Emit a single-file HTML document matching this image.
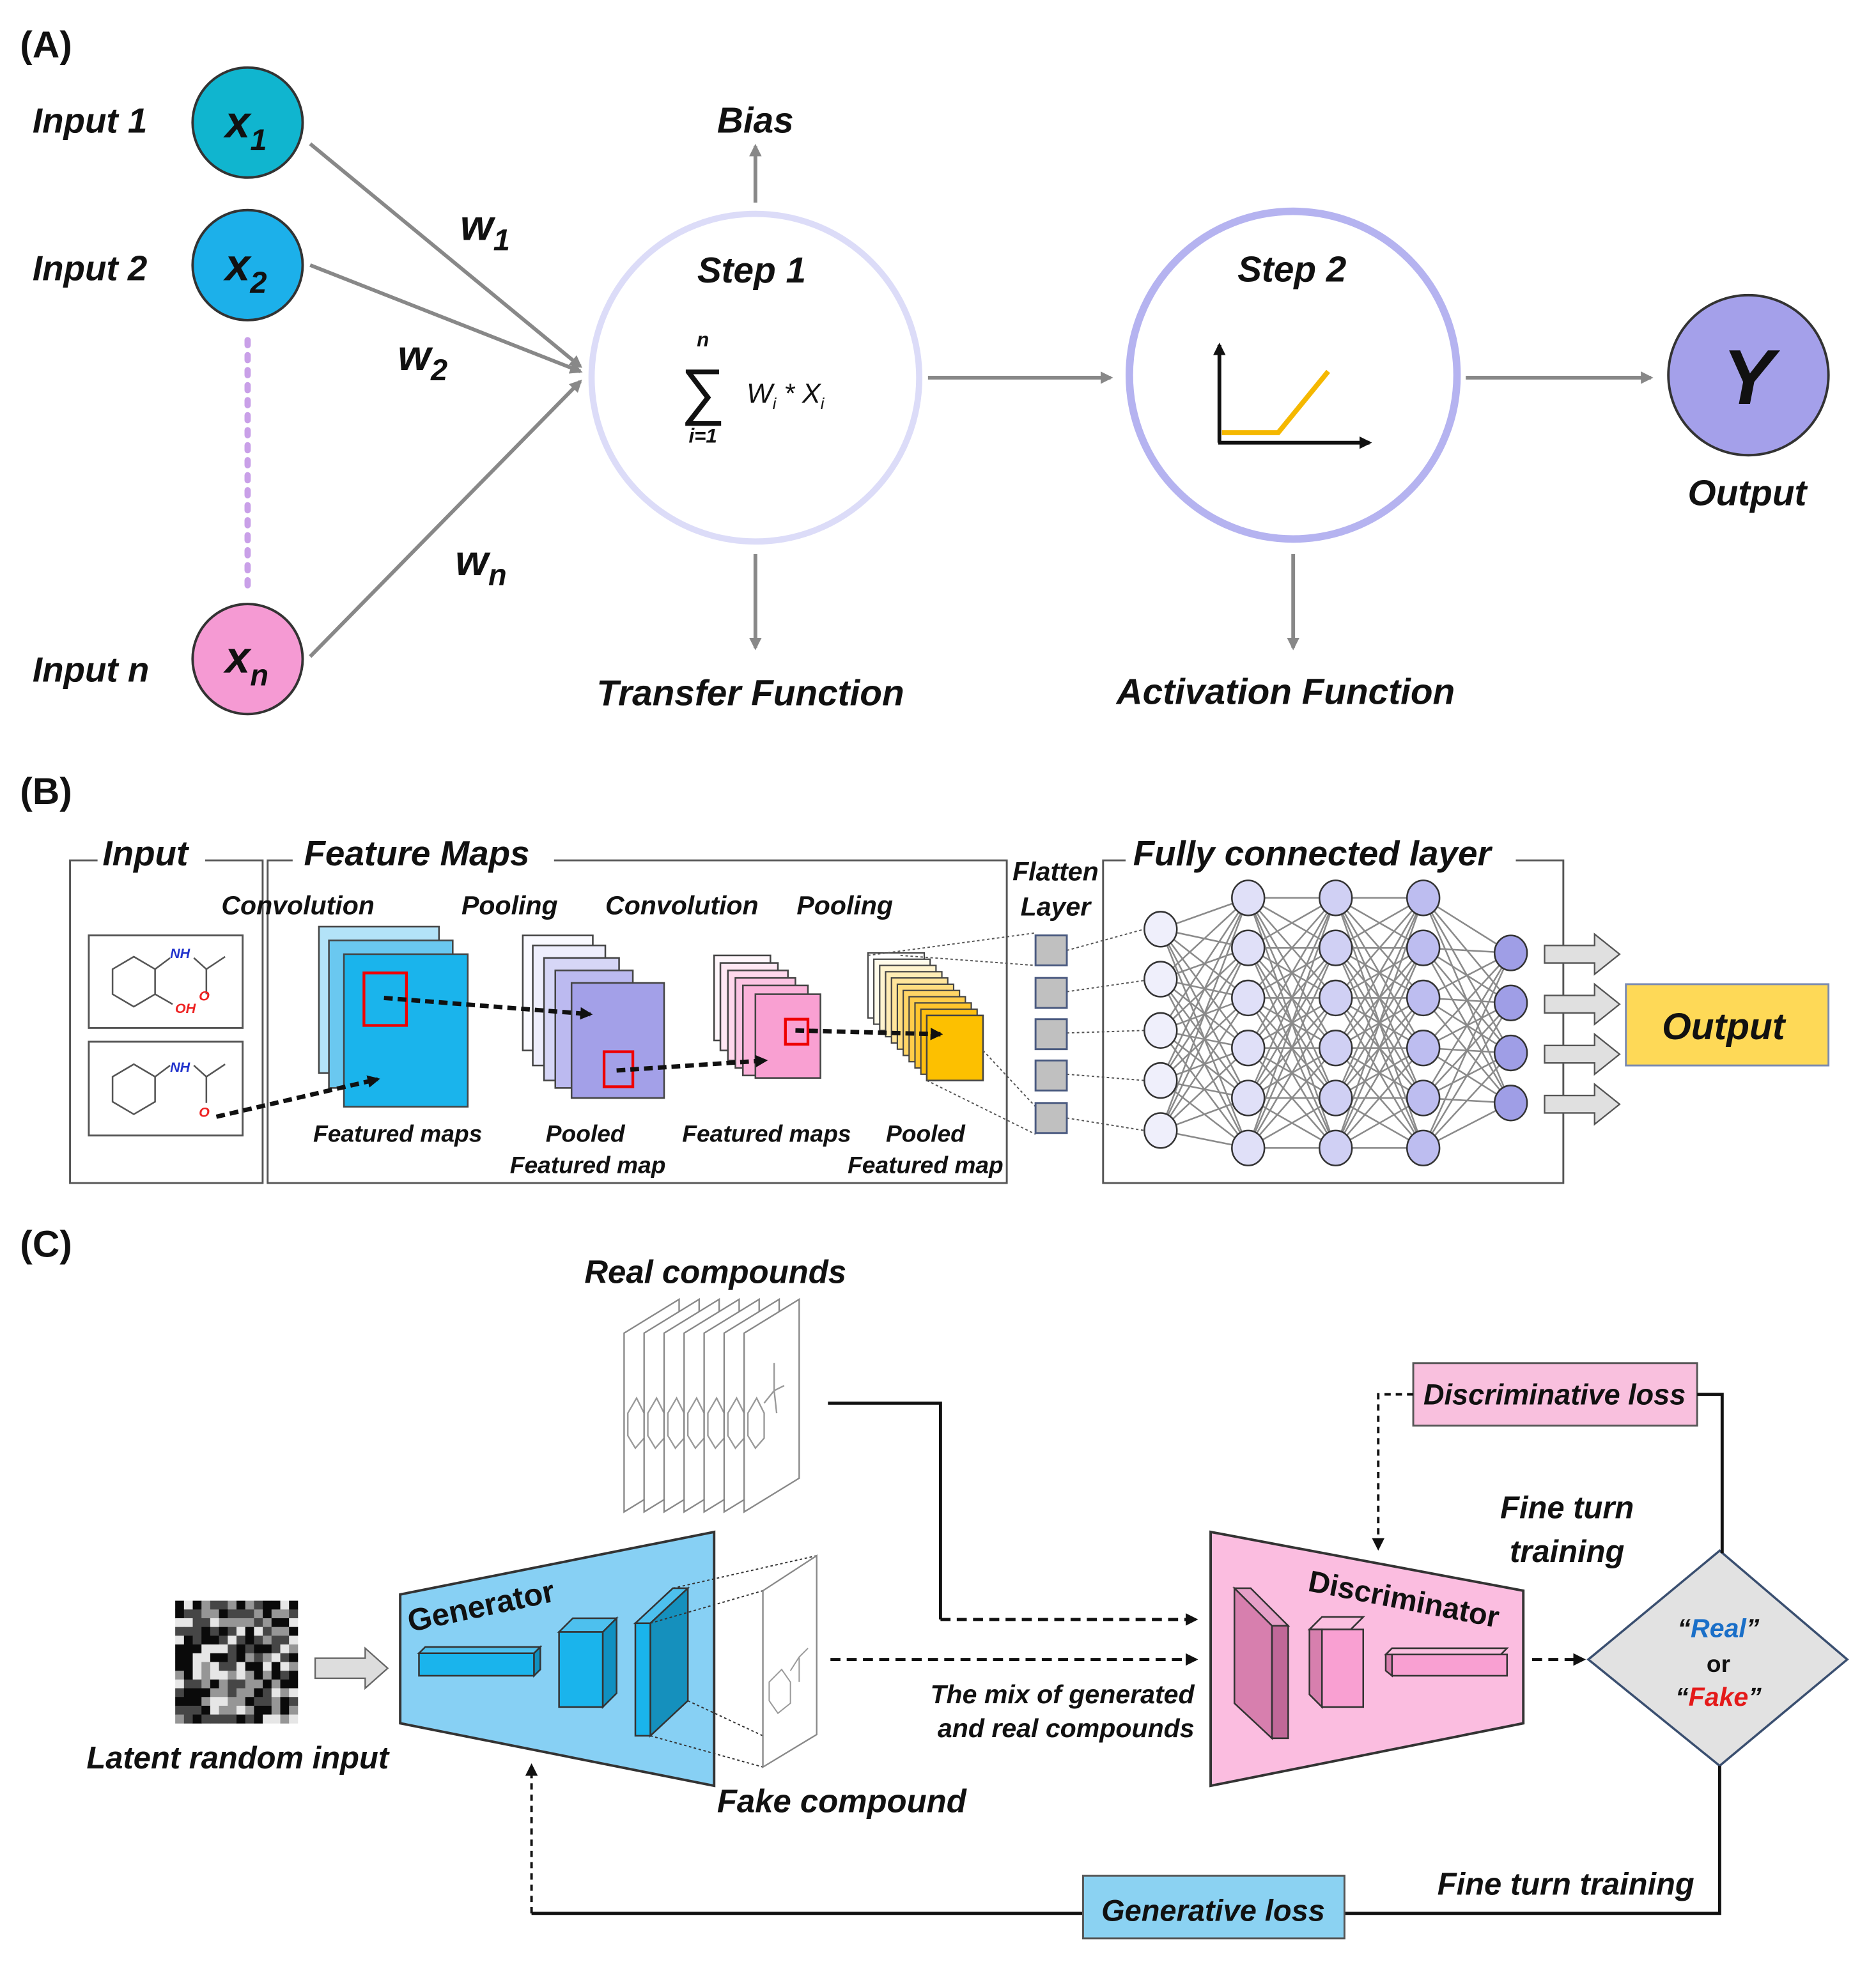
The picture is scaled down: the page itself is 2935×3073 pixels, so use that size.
<!DOCTYPE html>
<html><head><meta charset="utf-8"><style>
html,body{margin:0;padding:0;background:#fff}
svg{display:block}
text{font-family:"Liberation Sans",sans-serif;font-style:italic;font-weight:bold;fill:#111}
.h{font-style:normal}
</style></head><body>
<svg id="s" width="2935" height="3073" viewBox="0 0 1500 1570.5" preserveAspectRatio="none" xmlns="http://www.w3.org/2000/svg">
<defs>
<marker id="ag" markerWidth="10" markerHeight="10" refX="8" refY="5" orient="auto" markerUnits="userSpaceOnUse"><path d="M0,0 L10,5 L0,10 z" fill="#888"/></marker>
<marker id="ak" markerWidth="10" markerHeight="10" refX="8" refY="5" orient="auto" markerUnits="userSpaceOnUse"><path d="M0,0 L10,5 L0,10 z" fill="#111"/></marker>
</defs>
<rect width="1500" height="1571" fill="#fff"/>
<!-- PANEL A -->
<text x="16" y="46" font-size="30" class="h">(A)</text>
<g font-size="28">
<text x="26" y="106">Input 1</text>
<text x="26" y="224">Input 2</text>
<text x="26" y="545">Input n</text>
</g>
<circle cx="198" cy="98" r="44" fill="#10b5cf" stroke="#333" stroke-width="2"/>
<circle cx="198" cy="212" r="44" fill="#1cb0ea" stroke="#333" stroke-width="2"/>
<circle cx="198" cy="527" r="44" fill="#f59ad3" stroke="#333" stroke-width="2"/>
<text x="180" y="110" font-size="36">x<tspan font-size="24" dy="10">1</tspan></text>
<text x="180" y="224" font-size="36">x<tspan font-size="24" dy="10">2</tspan></text>
<text x="180" y="538" font-size="36">x<tspan font-size="24" dy="10">n</tspan></text>
<line x1="198" y1="272" x2="198" y2="470" stroke="#c9a0e8" stroke-width="5" stroke-dasharray="4,8" stroke-linecap="round"/>
<g stroke="#888" stroke-width="3" fill="none">
<line x1="248" y1="115" x2="464" y2="293" marker-end="url(#ag)"/>
<line x1="248" y1="212" x2="464" y2="297" marker-end="url(#ag)"/>
<line x1="248" y1="525" x2="464" y2="305" marker-end="url(#ag)"/>
<line x1="604" y1="162" x2="604" y2="117" marker-end="url(#ag)"/>
<line x1="604" y1="443" x2="604" y2="518" marker-end="url(#ag)"/>
<line x1="742" y1="302" x2="888" y2="302" marker-end="url(#ag)"/>
<line x1="1034" y1="443" x2="1034" y2="518" marker-end="url(#ag)"/>
<line x1="1172" y1="302" x2="1320" y2="302" marker-end="url(#ag)"/>
</g>
<text x="368" y="192" font-size="34">w<tspan font-size="24" dy="8">1</tspan></text>
<text x="318" y="296" font-size="34">w<tspan font-size="24" dy="8">2</tspan></text>
<text x="364" y="460" font-size="34">w<tspan font-size="24" dy="8">n</tspan></text>
<circle cx="604" cy="302" r="131" fill="none" stroke="#dcdcf8" stroke-width="5"/>
<circle cx="1034" cy="300" r="131" fill="none" stroke="#b5b3f0" stroke-width="6"/>
<text x="604" y="106" font-size="29" text-anchor="middle">Bias</text>
<text x="601" y="226" font-size="29" text-anchor="middle">Step 1</text>
<text x="1033" y="225" font-size="29" text-anchor="middle">Step 2</text>
<text x="600" y="564" font-size="29" text-anchor="middle">Transfer Function</text>
<text x="1028" y="563" font-size="29" text-anchor="middle">Activation Function</text>
<text x="562" y="277" font-size="16" text-anchor="middle">n</text>
<text x="562" y="330" font-size="50" text-anchor="middle" class="h" style="font-weight:normal">∑</text>
<text x="562" y="354" font-size="16" text-anchor="middle">i=1</text>
<text x="597" y="322" font-size="22" style="font-weight:normal">W<tspan font-size="13" dy="5">i</tspan><tspan dy="-5"> * X</tspan><tspan font-size="13" dy="5">i</tspan></text>
<g stroke="#111" stroke-width="3" fill="none">
<line x1="975" y1="354" x2="975" y2="276" marker-end="url(#ak)"/>
<line x1="974" y1="354" x2="1095" y2="354" marker-end="url(#ak)"/>
</g>
<polyline points="977,346 1022,346 1062,297" fill="none" stroke="#f5b800" stroke-width="4"/>
<circle cx="1398" cy="300" r="64" fill="#a4a0ea" stroke="#333" stroke-width="2"/>
<text x="1398" y="323" font-size="62" text-anchor="middle">Y</text>
<text x="1397" y="404" font-size="29" text-anchor="middle">Output</text>

<!-- PANEL B -->
<text x="16" y="643" font-size="30" class="h">(B)</text>
<g fill="none" stroke="#555" stroke-width="1.5">
<path d="M78,688 H56 V946 H210 V688 H164"/>
<path d="M234,688 H214 V946 H805 V688 H443"/>
<path d="M900,688 H882 V946 H1250 V688 H1212"/>
<rect x="71" y="748" width="123" height="74"/>
<rect x="71" y="833" width="123" height="75"/>
</g>
<text x="82" y="692" font-size="28">Input</text>
<text x="243" y="692" font-size="28">Feature Maps</text>
<text x="906" y="692" font-size="28">Fully connected layer</text>
<g font-size="21">
<text x="177" y="731">Convolution</text>
<text x="369" y="731">Pooling</text>
<text x="484" y="731">Convolution</text>
<text x="637" y="731">Pooling</text>
<text x="844" y="704" text-anchor="middle">Flatten</text>
<text x="844" y="732" text-anchor="middle">Layer</text>
</g>
<g font-size="19">
<text x="318" y="913" text-anchor="middle">Featured maps</text>
<text x="468" y="913" text-anchor="middle">Pooled</text>
<text x="470" y="938" text-anchor="middle">Featured map</text>
<text x="613" y="913" text-anchor="middle">Featured maps</text>
<text x="740" y="913" text-anchor="middle">Pooled</text>
<text x="740" y="938" text-anchor="middle">Featured map</text>
</g>
<!-- molecules -->
<g fill="none" stroke="#555" stroke-width="1.3">
<path d="M90,775 L107,765 L124,775 L124,795 L107,805 L90,795 Z M124,775 L136,766 M124,795 L138,803 M155,766 L165,775 L180,765 M165,775 L165,795"/>
<path d="M90,861 L107,851 L124,861 L124,881 L107,891 L90,881 Z M124,861 L136,852 M155,852 L165,861 L180,851 M165,861 L165,882"/>
</g>
<g font-size="11" class="h" style="font-weight:normal">
<text x="136" y="766" style="fill:#2233cc">NH</text>
<text x="159" y="800" style="fill:#e22">O</text>
<text x="140" y="810" style="fill:#e22">OH</text>
<text x="136" y="857" style="fill:#2233cc">NH</text>
<text x="159" y="893" style="fill:#e22">O</text>
</g>
<!-- stacks -->
<g stroke="#444" stroke-width="1.3">
<rect x="255" y="741" width="96" height="117" fill="#b3e3f8"/>
<rect x="263" y="752" width="99" height="118" fill="#6ac8f0"/>
<rect x="275" y="763" width="99" height="122" fill="#1ab4ec"/>
<rect x="418" y="748" width="56" height="92" fill="#fafaff"/>
<rect x="426" y="756" width="58" height="96" fill="#eeeefc"/>
<rect x="435" y="766" width="60" height="98" fill="#d6d6f6"/>
<rect x="444" y="776" width="62" height="94" fill="#bcbaf0"/>
<rect x="457" y="786" width="74" height="92" fill="#a3a0e8"/>
<rect x="571" y="764" width="45" height="68" fill="#fff6fb"/>
<rect x="576" y="770" width="46" height="70" fill="#ffe8f4"/>
<rect x="582" y="776" width="48" height="72" fill="#ffd8ec"/>
<rect x="588" y="782" width="48" height="72" fill="#fcc4e3"/>
<rect x="594" y="788" width="52" height="72" fill="#fbb2da"/>
<rect x="604" y="795" width="52" height="67" fill="#f9a0d2"/>
</g>
<g stroke="#444" stroke-width="1.1" id="ys"></g>
<rect x="741" y="812" width="45" height="52" fill="#fdc000" stroke="#444" stroke-width="1.3"/>
<g fill="none" stroke="#e00" stroke-width="2.2">
<rect x="291" y="778" width="34" height="42"/>
<rect x="483" y="841" width="23" height="28"/>
<rect x="628" y="815" width="18" height="20"/>
</g>
<g stroke="#111" stroke-width="3.5" stroke-dasharray="7,4" fill="none">
<line x1="307" y1="798" x2="472" y2="811" marker-end="url(#ak)"/>
<line x1="493" y1="856" x2="612" y2="848" marker-end="url(#ak)"/>
<line x1="636" y1="824" x2="752" y2="827" marker-end="url(#ak)"/>
<line x1="173" y1="893" x2="302" y2="863" marker-end="url(#ak)"/>
</g>
<g stroke="#555" stroke-width="1" stroke-dasharray="2,2" fill="none">
<line x1="694" y1="764" x2="828" y2="746"/>
<line x1="720" y1="764" x2="828" y2="772"/>
<line x1="741" y1="864" x2="828" y2="907"/>
<line x1="786" y1="840" x2="828" y2="885"/>
<line x1="853" y1="760" x2="915" y2="743"/>
<line x1="853" y1="793" x2="915" y2="784"/>
<line x1="853" y1="826" x2="915" y2="824"/>
<line x1="853" y1="859" x2="915" y2="864"/>
<line x1="853" y1="894" x2="915" y2="904"/>
</g>
<g fill="#c0c0c0" stroke="#4a5a80" stroke-width="1.5">
<rect x="828" y="748" width="25" height="24"/>
<rect x="828" y="782" width="25" height="24"/>
<rect x="828" y="815" width="25" height="24"/>
<rect x="828" y="848" width="25" height="24"/>
<rect x="828" y="882" width="25" height="24"/>
</g>
<g id="mesh" stroke="#8a8a8a" stroke-width="1.3"></g>
<g id="nodes" stroke="#333" stroke-width="1.3"></g>
<g fill="#e0e0e0" stroke="#555" stroke-width="1.2">
<path d="M1235,756 H1275 V747 L1295,763 L1275,779 V770 H1235 Z"/>
<path d="M1235,796 H1275 V787 L1295,803 L1275,819 V810 H1235 Z"/>
<path d="M1235,836 H1275 V827 L1295,843 L1275,859 V850 H1235 Z"/>
<path d="M1235,876 H1275 V867 L1295,883 L1275,899 V890 H1235 Z"/>
</g>
<rect x="1300" y="787" width="162" height="65" fill="#fed957" stroke="#7a8ab0" stroke-width="1.5"/>
<text x="1378" y="831" font-size="30" text-anchor="middle">Output</text>

<!-- PANEL C -->
<text x="16" y="1005" font-size="30" class="h">(C)</text>
<text x="572" y="1026" font-size="26" text-anchor="middle">Real compounds</text>
<g id="pages" fill="#fff" stroke="#888" stroke-width="1.2"></g>
<g fill="none" stroke="#111" stroke-width="2.5">
<polyline points="662,1122 752,1122 752,1295"/>
</g>
<g stroke="#111" stroke-width="2.5" stroke-dasharray="8,5" fill="none">
<line x1="752" y1="1295" x2="956" y2="1295" marker-end="url(#ak)"/>
<line x1="664" y1="1327" x2="956" y2="1327" marker-end="url(#ak)"/>
<line x1="1225" y1="1327" x2="1266" y2="1327" marker-end="url(#ak)"/>
</g>
<g font-size="21" text-anchor="end">
<text x="955" y="1362">The mix of generated</text>
<text x="955" y="1389">and real compounds</text>
</g>
<!-- generator -->
<path d="M320,1275 L571,1225 L571,1428 L320,1378 Z" fill="#87d0f4" stroke="#333" stroke-width="2"/>
<text x="0" y="0" font-size="25" transform="translate(328,1305) rotate(-12)" style="font-style:normal">Generator</text>
<g stroke="#333" stroke-width="1.3">
<path d="M335,1322 L427,1322 L432,1317 L340,1317 Z" fill="#4dc0ee"/>
<rect x="335" y="1322" width="92" height="18" fill="#1ab4ec"/>
<path d="M427,1322 L432,1317 L432,1335 L427,1340 Z" fill="#1090c0"/>
<path d="M447,1305 L482,1305 L493,1294 L458,1294 Z" fill="#4dc0ee"/>
<rect x="447" y="1305" width="35" height="60" fill="#1ab4ec"/>
<path d="M482,1305 L493,1294 L493,1354 L482,1365 Z" fill="#1090c0"/>
<path d="M508,1298 L520,1298 L550,1270 L538,1270 Z" fill="#4dc0ee"/>
<path d="M520,1298 L550,1270 L550,1360 L520,1388 Z" fill="#1590bd"/>
<rect x="508" y="1298" width="12" height="90" fill="#1ab4ec"/>
</g>
<g stroke="#333" stroke-width="1" stroke-dasharray="2,2" fill="none">
<line x1="538" y1="1270" x2="653" y2="1244"/>
<line x1="520" y1="1298" x2="610" y2="1272"/>
<line x1="550" y1="1360" x2="610" y2="1388"/>
<line x1="520" y1="1388" x2="610" y2="1413"/>
</g>
<path d="M610,1272 L653,1244 L653,1387 L610,1413 Z" fill="#fff" stroke="#888" stroke-width="1.2"/>
<path d="M615,1345 L625,1335 L632,1345 L632,1362 L622,1370 L615,1360 Z M632,1336 L639,1325 L646,1318 M639,1325 L639,1345" fill="none" stroke="#999" stroke-width="1"/>
<text x="673" y="1449" font-size="26" text-anchor="middle">Fake compound</text>
<g id="noise"></g>
<path d="M252,1326 H292 V1318 L310,1334 L292,1350 V1342 H252 Z" fill="#ddd" stroke="#666" stroke-width="1.2"/>
<text x="190" y="1414" font-size="25" text-anchor="middle">Latent random input</text>
<!-- discriminator -->
<path d="M968,1225 L1218,1272 L1218,1378 L968,1428 Z" fill="#fbbde0" stroke="#333" stroke-width="2"/>
<text x="0" y="0" font-size="24" transform="translate(1045,1272) rotate(11)" style="font-style:normal">Discriminator</text>
<g stroke="#333" stroke-width="1.3">
<path d="M987,1270 L1000,1270 L1030,1300 L1017,1300 Z" fill="#e6a0c8"/>
<path d="M1017,1300 L1030,1300 L1030,1390 L1017,1390 Z" fill="#c06898"/>
<path d="M987,1270 L1017,1300 L1017,1390 L987,1362 Z" fill="#d77fae"/>
<path d="M1047,1303 L1057,1293 L1090,1293 L1080,1303 Z" fill="#fbc0e0"/>
<rect x="1057" y="1303" width="33" height="62" fill="#f9a0d2"/>
<path d="M1047,1303 L1057,1303 L1057,1365 L1047,1355 Z" fill="#d77fae"/>
<path d="M1108,1323 L1113,1318 L1205,1318 L1200,1323 Z" fill="#fbc0e0"/>
<rect x="1113" y="1323" width="92" height="17" fill="#f9a0d2"/>
<path d="M1108,1323 L1113,1323 L1113,1340 L1108,1336 Z" fill="#d77fae"/>
</g>
<path d="M1270,1327 L1375,1240 L1477,1327 L1375,1412 Z" fill="#e2e2e2" stroke="#3a4f70" stroke-width="1.8"/>
<text x="1374" y="1309" font-size="21" text-anchor="middle">“<tspan style="fill:#1a6fc8">Real</tspan>”</text>
<text x="1374" y="1337" font-size="19" text-anchor="middle" style="font-style:normal">or</text>
<text x="1374" y="1364" font-size="21" text-anchor="middle">“<tspan style="fill:#e41a1a">Fake</tspan>”</text>
<rect x="1130" y="1090" width="227" height="50" fill="#f9c0de" stroke="#555" stroke-width="1.5"/>
<text x="1243" y="1123" font-size="23" text-anchor="middle">Discriminative loss</text>
<polyline points="1357,1115 1377,1115 1377,1242" fill="none" stroke="#111" stroke-width="2.5"/>
<polyline points="1130,1115 1102,1115 1102,1238" fill="none" stroke="#111" stroke-width="2" stroke-dasharray="5,4" marker-end="url(#ak)"/>
<text x="1253" y="1214" font-size="25" text-anchor="middle">Fine turn</text>
<text x="1253" y="1249" font-size="25" text-anchor="middle">training</text>
<polyline points="1375,1412 1375,1530 1075,1530" fill="none" stroke="#111" stroke-width="2.5"/>
<line x1="866" y1="1530" x2="425" y2="1530" stroke="#111" stroke-width="2.5"/>
<line x1="425" y1="1530" x2="425" y2="1412" stroke="#111" stroke-width="2" stroke-dasharray="5,4" marker-end="url(#ak)"/>
<rect x="866" y="1500" width="209" height="50" fill="#8bd2f2" stroke="#555" stroke-width="1.5"/>
<text x="970" y="1536" font-size="24" text-anchor="middle">Generative loss</text>
<text x="1252" y="1515" font-size="25" text-anchor="middle">Fine turn training</text>
</svg>
<script>
var NS="http://www.w3.org/2000/svg";
function el(p,t,a){var e=document.createElementNS(NS,t);for(var k in a)e.setAttribute(k,a[k]);p.appendChild(e);return e;}
var ys=document.getElementById('ys');
var yc=['#ffffff','#fffbea','#fff4cf','#ffedb5','#ffe59b','#ffdd80','#ffd566','#ffcc4a','#ffc52e','#ffbf10'];
for(var i=0;i<10;i++){el(ys,'rect',{x:694+i*4.7,y:762+i*5,width:45,height:52,fill:yc[i]});}
var cols=[[928,[743,783,824,864,904],'#efeffb'],[998,[718,758,798,838,878,918],'#e0e0f8'],[1068,[718,758,798,838,878,918],'#d0d0f4'],[1138,[718,758,798,838,878,918],'#bdbdf0'],[1208,[762,802,842,882],'#9f9ee6']];
var m=document.getElementById('mesh'),n=document.getElementById('nodes');
for(var c=0;c<4;c++)for(var a=0;a<cols[c][1].length;a++)for(var b=0;b<cols[c+1][1].length;b++)
 el(m,'line',{x1:cols[c][0],y1:cols[c][1][a],x2:cols[c+1][0],y2:cols[c+1][1][b]});
cols.forEach(function(cc){cc[1].forEach(function(y){el(n,'ellipse',{cx:cc[0],cy:y,rx:13,ry:14,fill:cc[2]});});});
var pg=document.getElementById('pages');
for(var i=0;i<7;i++){var x=499+i*16;
 el(pg,'path',{d:'M'+x+',1066 L'+(x+44)+',1039 L'+(x+44)+',1182 L'+x+',1209 Z'});
 el(pg,'path',{d:'M'+(x+3)+',1130 L'+(x+10)+',1118 L'+(x+16)+',1130 L'+(x+16)+',1150 L'+(x+9)+',1158 L'+(x+3)+',1148 Z',fill:'none',stroke:'#999'});}
var L=595;
el(pg,'path',{d:'M'+(L+16)+',1122 L'+(L+24)+',1112 L'+(L+32)+',1108 M'+(L+24)+',1112 L'+(L+24)+',1090 M'+(L+24)+',1112 L'+(L+26)+',1130',fill:'none',stroke:'#999'});
var nz=document.getElementById('noise');var s=7;
for(var yy=0;yy<14;yy++)for(var xx=0;xx<14;xx++){var v=Math.floor(Math.abs(Math.sin(xx*12.9898+yy*78.233)*43758.5453)%1*255);
 var g=v>128?(v>200?230:150):(v<60?10:70);
 el(nz,'rect',{x:140+xx*s+0.1,y:1280+yy*s,width:s+0.2,height:s+0.2,fill:'rgb('+g+','+g+','+g+')'});}
</script>
</body></html>
